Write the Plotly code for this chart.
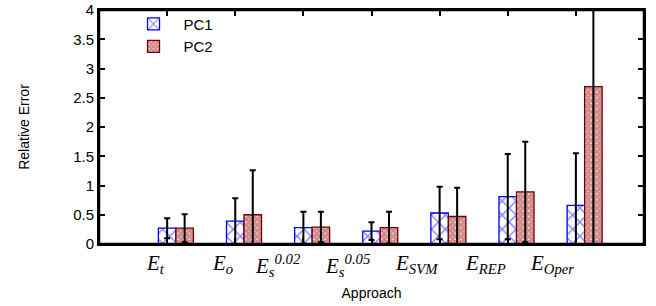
import plotly.graph_objects as go

categories = ["E<sub>t</sub>", "E<sub>o</sub>", "E<sub>s</sub><sup>0.02</sup>", "E<sub>s</sub><sup>0.05</sup>",
              "E<sub>SVM</sub>", "E<sub>REP</sub>", "E<sub>Oper</sub>"]
pc1_values = [0.27, 0.39, 0.28, 0.22, 0.53, 0.81, 0.66]
pc1_errors = [0.17, 0.39, 0.27, 0.15, 0.45, 0.73, 0.89]
pc2_values = [0.27, 0.50, 0.29, 0.28, 0.47, 0.89, 2.69]
pc2_errors = [0.24, 0.76, 0.26, 0.27, 0.49, 0.86, 2.69]
y_ticks = [0, 0.5, 1, 1.5, 2, 2.5, 3, 3.5, 4]
y_tick_text = ["0", "0.5", "1", "1.5", "2", "2.5", "3", "3.5", "4"]

idx = list(range(len(categories)))
w = 0.257

fig = go.Figure()
fig.add_trace(go.Bar(
    name="PC1", x=idx, y=pc1_values, width=w, offset=-w / 2,
    marker=dict(color="white", line=dict(color="#0000ee", width=1.3),
                pattern=dict(shape="x", fgcolor="#0000ff", bgcolor="white", size=10, solidity=0.25)),
    error_y=dict(type="data", array=pc1_errors, color="black", thickness=2, width=3),
))
fig.add_trace(go.Bar(
    name="PC2", x=idx, y=pc2_values, width=w, offset=w / 2,
    marker=dict(color="white", line=dict(color="#6a0000", width=1.3),
                pattern=dict(shape="x", fgcolor="#a81818", bgcolor="white", size=4, solidity=0.9)),
    error_y=dict(type="data", array=pc2_errors, color="black", thickness=2, width=3),
))

for i, lab in zip(idx, categories):
    fig.add_annotation(x=i, xref="x", y=0, yref="paper", yshift=-5,
                       xanchor="right", yanchor="top", showarrow=False, text="<i>" + lab + "</i>",
                       font=dict(family="Liberation Serif", size=21, color="black"))

fig.add_shape(type="rect", xref="paper", yref="paper", x0=0, x1=1, y0=0, y1=1,
              line=dict(color="black", width=2.5), fillcolor="rgba(0,0,0,0)", layer="above")

fig.update_layout(
    width=656, height=306,
    margin=dict(l=99, r=12, t=8, b=62),
    paper_bgcolor="white", plot_bgcolor="white",
    barmode="overlay",
    font=dict(family="Liberation Sans", size=14, color="black"),
    showlegend=True,
    legend=dict(x=0.045, y=1.01, xanchor="left", yanchor="top", bgcolor="rgba(0,0,0,0)",
                font=dict(size=15), tracegroupgap=0, itemwidth=50),
)
fig.update_xaxes(range=[-1, 7], tickvals=idx, ticktext=[""] * len(idx), ticks="inside", ticklen=6,
                 tickcolor="black", tickwidth=2,
                 showline=True, linecolor="black", linewidth=2, mirror="allticks", showgrid=False,
                 zeroline=False, automargin=False,
                 title=dict(text="Approach", font=dict(size=14), standoff=40))
fig.update_yaxes(range=[0, 4], tickvals=y_ticks, ticktext=y_tick_text, ticks="inside", ticklen=6,
                 tickcolor="black", tickwidth=2,
                 showline=True, linecolor="black", linewidth=2, mirror="allticks", showgrid=False,
                 zeroline=False, tickfont=dict(size=15), automargin=False,
                 title=dict(text="Relative Error", font=dict(size=14), standoff=40))

fig.write_html("out.html", config={"displayModeBar": False},
               post_script="document.body.style.margin='0';document.body.style.overflow='hidden';")
